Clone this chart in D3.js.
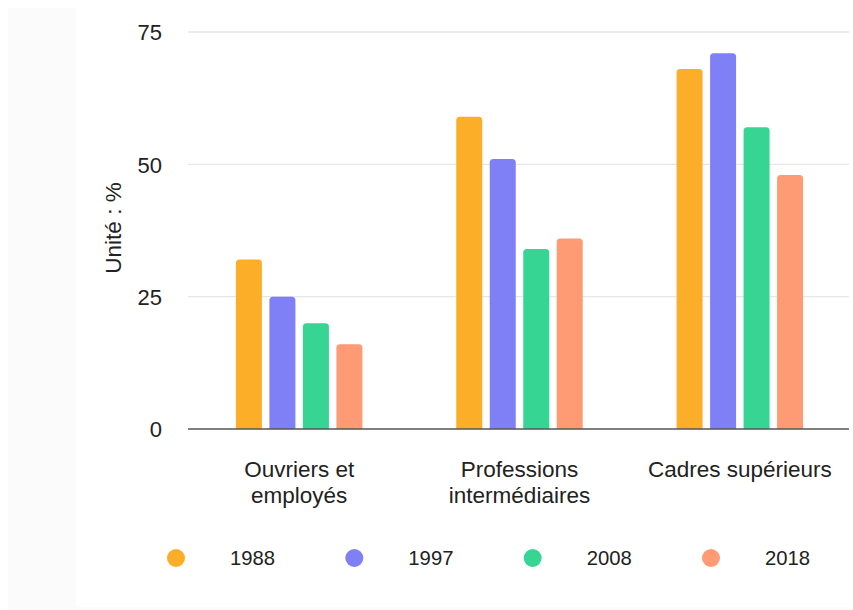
<!DOCTYPE html>
<html><head><meta charset="utf-8">
<script src="https://cdn.jsdelivr.net/npm/d3@7"></script>
<style>
html,body{margin:0;padding:0;background:#fff;}
svg{display:block;font-family:"Liberation Sans",Arial,sans-serif;}
</style></head>
<body><svg id="c" width="853" height="610"></svg>
<script>
const categories = [["Ouvriers et","employés"],["Professions","intermédiaires"],["Cadres supérieurs"]];
const seriesNames = ["1988","1997","2008","2018"];
const colors = ["#FDAE29","#7F80F5","#36D593","#FE9B74"];
const v1988 = [32, 59, 68];
const v1997 = [25, 51, 71];
const v2008 = [20, 34, 57];
const v2018 = [16, 36, 48];
const yTicks = [0, 25, 50, 75];
const yTitle = "Unité : %";

const seriesValues = [v1988, v1997, v2008, v2018];
const svg = d3.select("#c");
const W = 853, H = 610;
svg.append("rect").attr("width", W).attr("height", H).attr("fill", "#fff");
svg.append("rect").attr("x", 8).attr("y", 8).attr("width", 68).attr("height", 600).attr("fill", "#fbfbfb");
svg.append("rect").attr("x", 8).attr("y", 607).attr("width", W - 8).attr("height", 3).attr("fill", "#fbfbfb");

const pLeft = 188, pRight = 849, pTop = 32, pBottom = 429;
const groupW = 126.5;
const y = d3.scaleLinear().domain([0, 75]).range([pBottom, pTop]);
const x0 = d3.scaleBand().domain(d3.range(categories.length)).range([pLeft, pRight]).paddingInner(0).paddingOuter(0);
const x1 = d3.scaleBand().domain(d3.range(seriesNames.length)).range([0, groupW]).paddingInner(0.224);
const groupOffset = (x0.bandwidth() - groupW) / 2 + 1;

// gridlines
svg.append("g").selectAll("line").data(yTicks.filter(t => t > 0)).join("line")
  .attr("x1", pLeft).attr("x2", pRight)
  .attr("y1", d => y(d)).attr("y2", d => y(d))
  .attr("stroke", "#e6e6e6").attr("stroke-width", 1.3);

// y tick labels
const yAxis = d3.axisLeft(y).tickValues(yTicks).tickSize(0).tickPadding(0);
const gy = svg.append("g").attr("transform", `translate(162,0)`).call(yAxis);
gy.select(".domain").remove();
gy.selectAll("text").attr("font-size", 22).attr("fill", "#222")
  .attr("font-family", "Liberation Sans, Arial, sans-serif").attr("dy", "0.36em");

// y title
svg.append("text").attr("transform", `translate(121,228) rotate(-90)`)
  .attr("text-anchor", "middle").attr("font-size", 22.5).attr("fill", "#222").text(yTitle);

// bars with rounded top corners
function barPath(xp, w, yT, yB, r) {
  r = Math.min(r, (yB - yT) / 2, w / 2);
  return `M${xp},${yB}V${yT + r}Q${xp},${yT} ${xp + r},${yT}H${xp + w - r}Q${xp + w},${yT} ${xp + w},${yT + r}V${yB}Z`;
}
const groups = svg.append("g").selectAll("g").data(categories).join("g")
  .attr("transform", (d, i) => `translate(${x0(i) + groupOffset},0)`);
groups.selectAll("path").data((d, i) => seriesValues.map((s, j) => ({ j, v: s[i] }))).join("path")
  .attr("d", d => barPath(x1(d.j), x1.bandwidth(), y(d.v), y(0), 3.5))
  .attr("fill", d => colors[d.j]);

// baseline
svg.append("line").attr("x1", pLeft).attr("x2", pRight).attr("y1", y(0)).attr("y2", y(0))
  .attr("stroke", "#555").attr("stroke-width", 1.5);

// category labels (one text per line)
const labelLines = [];
categories.forEach((lines, i) => lines.forEach((t, k) => labelLines.push({ i, k, t })));
svg.append("g").selectAll("text").data(labelLines).join("text")
  .attr("x", d => x0(d.i) + x0.bandwidth() / 2 + 1)
  .attr("y", d => 477 + d.k * 25.5)
  .attr("text-anchor", "middle").attr("font-size", 22.5).attr("fill", "#222")
  .text(d => d.t);

// legend
const lx = d3.scaleLinear().domain([0, 3]).range([176, 711]);
const lg = svg.append("g").selectAll("g").data(seriesNames).join("g")
  .attr("transform", (d, i) => `translate(${lx(i)},558)`);
lg.append("circle").attr("r", 9).attr("fill", (d, i) => colors[i]);
lg.append("text").attr("x", 54).attr("dy", "0.36em").attr("font-size", 20.3).attr("fill", "#222").text(d => d);
</script></body></html>
